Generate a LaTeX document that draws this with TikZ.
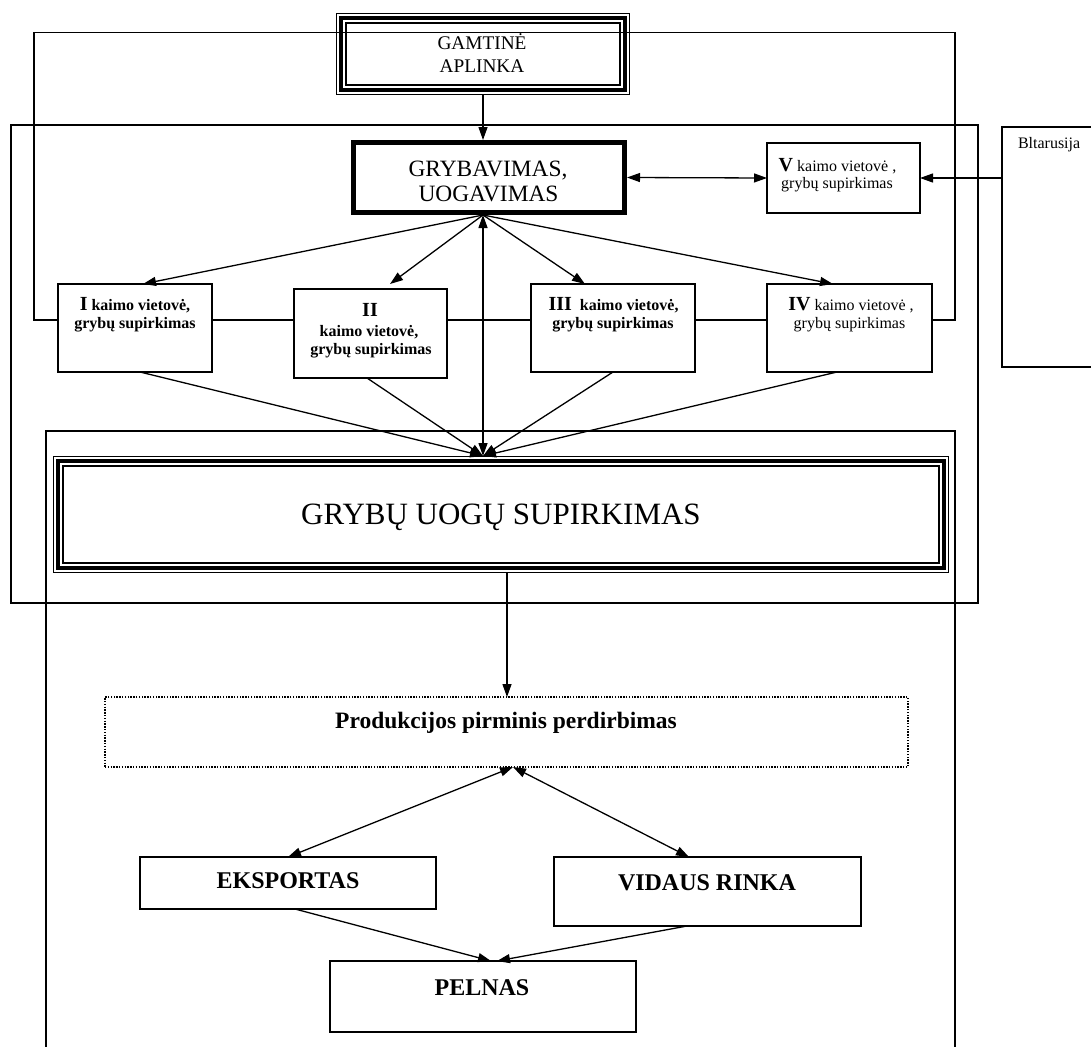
\documentclass[tikz,border=0pt]{standalone}
\usepackage{fontspec}
\setmainfont{Liberation Serif}
\usetikzlibrary{arrows.meta,calc}
\tikzset{
  ln/.style={line width=1.3pt},
  box/.style={draw, line width=1.3pt, inner sep=0pt, outer sep=0pt},
  thickbox/.style={draw, line width=5pt, inner sep=0pt, outer sep=0pt},
  tribox/.style={draw, line width=4pt, inner sep=0pt, outer sep=0pt},
  dotbox/.style={draw, line width=1.3pt, dash pattern=on 1.4pt off 1.4pt, inner sep=0pt, outer sep=0pt},
  txt/.style={inner sep=0pt, outer sep=0pt, anchor=base},
  fa/.style={font=\fontsize{16}{18}\selectfont},
  fab/.style={font=\fontsize{16}{18}\selectfont\bfseries},
  fgam/.style={font=\fontsize{19.3}{22}\selectfont},
  fgry/.style={font=\fontsize{23.4}{26}\selectfont},
  fsup/.style={font=\fontsize{31}{35}\selectfont},
  fbig/.style={font=\fontsize{23.5}{26}\selectfont\bfseries},
  fbot/.style={font=\fontsize{24}{27}\selectfont\bfseries},
  arr/.style={line width=1.3pt, -{Triangle[length=13pt,width=9pt]}},
  darr/.style={line width=1.3pt, {Triangle[length=13pt,width=9pt]}-{Triangle[length=13pt,width=9pt]}},
}
\newcommand\tripleframe[1]{%
  \draw[line width=1.3pt] ([shift={(-4.65pt,4.65pt)}]#1.north west) rectangle ([shift={(4.65pt,-4.65pt)}]#1.south east);
  \draw[line width=1.3pt] ([shift={(4.65pt,-4.65pt)}]#1.north west) rectangle ([shift={(-4.65pt,4.65pt)}]#1.south east);}
\newcommand\rn[1]{{\fontsize{20}{20}\selectfont\bfseries #1}}
\begin{document}
\begin{tikzpicture}[x=1pt,y=-1pt]
\useasboundingbox (0,0) rectangle (1091,1046);
\clip (0,0) rectangle (1091,1046);

% large frames
\draw[ln] (11,125) rectangle (978,603);
\draw[ln] (46,1070) -- (46,431) -- (955,431) -- (955,1070);

% boxes
\node[tribox, minimum width=283.4pt, minimum height=71.4pt] (gam) at (483,54) {};
\tripleframe{gam}
\node[thickbox, minimum width=271pt, minimum height=70pt] (gry) at (489,177.5) {};
\node[box, minimum width=153pt, minimum height=70pt] (vbox) at (843.5,178) {};
\node[box, minimum width=120pt, minimum height=240pt, anchor=north west] (blt) at (1002,127) {};
\node[box, minimum width=154pt, minimum height=88pt] (b1) at (135,328) {};
\node[box, minimum width=153pt, minimum height=89pt] (b2) at (370.5,333.5) {};
\node[box, minimum width=164pt, minimum height=88pt] (b3) at (613,328) {};
\node[box, minimum width=165pt, minimum height=88pt] (b4) at (849.5,328) {};
\node[tribox, minimum width=885.4pt, minimum height=106.4pt] (sup) at (501,514.5) {};
\tripleframe{sup}
\node[dotbox, minimum width=803pt, minimum height=70pt] (prod) at (506.5,732) {};
\node[box, minimum width=296pt, minimum height=52pt] (eks) at (288,883) {};
\node[box, minimum width=307pt, minimum height=69pt] (vid) at (707.5,891.5) {};
\node[box, minimum width=306pt, minimum height=71pt] (pel) at (483,996.5) {};

% texts
\node[txt, fgam] (gamt1) at (482,50) {GAMTINĖ};
\node[txt, fgam] (gamt2) at (482,72.7) {APLINKA};
\node[txt, fgry] (gryt1) at (488,176.7) {GRYBAVIMAS,};
\node[txt, fgry] (gryt2) at (488.5,201.7) {UOGAVIMAS};
\node[txt, fa] (vt1) at (837.5,171) {\rn{V} kaimo vietovė ,};
\node[txt, fa] (vt2) at (837,188) {grybų supirkimas};
\node[txt, fa, anchor=base west] (bltt) at (1018,148) {Bltarusija};
\node[txt, fab] (b1t1) at (135,310) {\rn{I} kaimo vietovė,};
\node[txt, fab] (b1t2) at (135,328) {grybų supirkimas};
\node[txt, fab] (b2t1) at (370,316.7) {\rn{II}};
\node[txt, fab] (b2t2) at (369,336) {kaimo vietovė,};
\node[txt, fab] (b2t3) at (371,354.7) {grybų supirkimas};
\node[txt, fab] (b3t1) at (613.5,310) {\rn{III}\ \ kaimo vietovė,};
\node[txt, fab] (b3t2) at (613,328) {grybų supirkimas};
\node[txt, fa] (b4t1) at (851,310) {\rn{IV} kaimo vietovė ,};
\node[txt, fa] (b4t2) at (849.5,328) {grybų supirkimas};
\node[txt, fsup] (supt) at (501,524.3) {GRYBŲ UOGŲ SUPIRKIMAS};
\node[txt, fbig] (prodt) at (506,728.3) {Produkcijos pirminis perdirbimas};
\node[txt, fbot] (ekst) at (288,888.3) {EKSPORTAS};
\node[txt, fbot] (vidt) at (707,890) {VIDAUS RINKA};
\node[txt, fbot] (pelt) at (482,995) {PELNAS};

% frame A connector
\coordinate (fa1) at (34,32.3);
\coordinate (fa2) at (955,32.3);
\coordinate (hl) at (0,320);
\draw[ln] (b1.west |- hl) -| (fa1) -- (fa2) |- (b4.east |- hl);
% horizontal links between village boxes
\draw[ln] (b1.east |- hl) -- (b2.west |- hl);
\draw[ln] (b2.east |- hl) -- (b3.west |- hl);
\draw[ln] (b3.east |- hl) -- (b4.west |- hl);

% connectors top
\coordinate (gs) at ([xshift=-6pt,yshift=-2.5pt]gry.south);
\coordinate (st) at ([xshift=-18pt,yshift=5.3pt]sup.north);
\draw[arr] ([yshift=-5.3pt]gam.south) -- ([xshift=-6pt,yshift=2.5pt]gry.north);
\draw[darr] ([xshift=2.5pt]gry.east) -- (vbox.west);
\draw[arr] (blt.west |- vbox.east) -- (vbox.east);
\draw[arr] (gs) -- ([xshift=8pt]b1.north);
\draw[arr] (gs) -- ([xshift=19.5pt,yshift=5pt]b2.north);
\draw[arr] (gs) -- ([xshift=-28pt]b3.north);
\draw[arr] (gs) -- ([xshift=-16.5pt]b4.north);
\draw[darr] (gs) -- (st);
\draw[arr] ([xshift=5pt]b1.south) -- (st);
\draw[arr] ([xshift=-3.5pt]b2.south) -- (st);
\draw[arr] (b3.south) -- (st);
\draw[arr] ([xshift=-12.5pt]b4.south) -- (st);

% connectors bottom
\draw[arr] ([xshift=6pt,yshift=-5.3pt]sup.south) -- ([xshift=0.5pt]prod.north);
\coordinate (pb) at ([xshift=6.5pt]prod.south);
\draw[darr] (pb) -- (eks.north);
\draw[darr] (pb) -- ([xshift=-18.5pt]vid.north);
\draw[arr] ([xshift=7pt]eks.south) -- ([xshift=8pt]pel.north);
\draw[arr] ([xshift=-20.5pt]vid.south) -- ([xshift=14pt]pel.north);
\end{tikzpicture}
\end{document}
